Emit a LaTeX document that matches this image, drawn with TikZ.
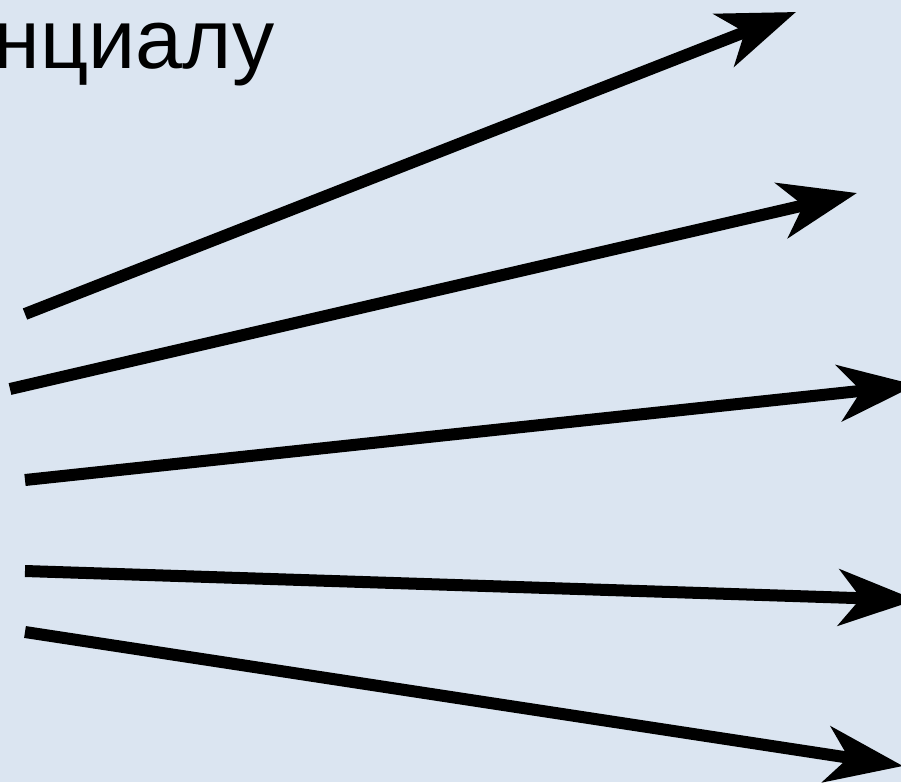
\documentclass[tikz,border=0pt]{standalone}
\usepackage{fontspec}
\setmainfont{Liberation Sans}
\usetikzlibrary{arrows.meta}
\definecolor{bgblue}{RGB}{219,229,241}

\begin{document}
\begin{tikzpicture}[
    x=0.01cm, y=-0.01cm,
    ray/.style={-{Stealth[length=7.7mm, width=5.6mm, inset=2.2mm]}, line width=1.2mm},
    caption/.style={inner sep=0pt, anchor=base east, font=\fontsize{24}{28}\selectfont}
]
\fill[bgblue] (0,0) rectangle (901,782);
\useasboundingbox (0,0) rectangle (901,782);
\node[caption] (word) at (275,69) {нциалу};

\coordinate (s1) at (25,314);
\coordinate (s2) at (10,389);
\coordinate (s3) at (25,480);
\coordinate (s4) at (25,571);
\coordinate (s5) at (25,632);
\coordinate (e1) at (796,12);
\coordinate (e2) at (857,193);
\coordinate (e3) at (916,385);
\coordinate (e4) at (916,600);
\coordinate (e5) at (903,766);

\foreach \i in {1,...,5}
    \draw[ray] (s\i) -- (e\i);
\end{tikzpicture}
\end{document}
